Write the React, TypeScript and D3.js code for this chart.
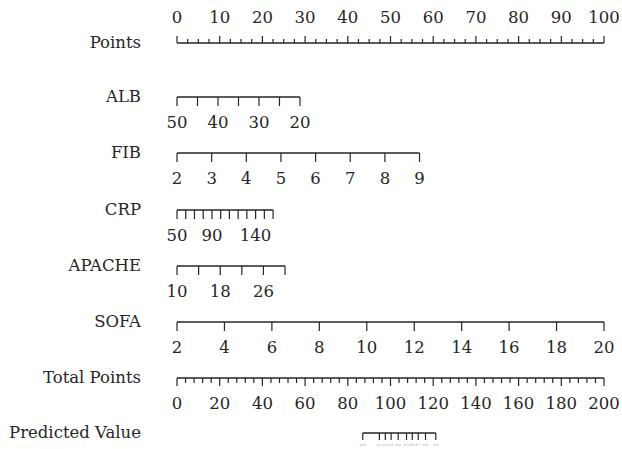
import React from "react";
import * as d3 from "d3";

// ---- data ----
const pointsTicksMajor = [0, 10, 20, 30, 40, 50, 60, 70, 80, 90, 100];
const pointsMinorStep = 2.5;

const albTicks = [50, 45, 40, 35, 30, 25, 20];
const albLabels = [50, 40, 30, 20];
const albDomain = [50, 20];
const albPoints = [0, 28.8];

const fibTicks = [2, 3, 4, 5, 6, 7, 8, 9];
const fibLabels = [2, 3, 4, 5, 6, 7, 8, 9];
const fibDomain = [2, 9];
const fibPoints = [0, 56.8];

const crpTicks = [50, 60, 70, 80, 90, 100, 110, 120, 130, 140, 150, 160];
const crpLabels = [50, 90, 140];
const crpDomain = [50, 160];
const crpPoints = [0, 22.5];

const apacheTicks = [10, 14, 18, 22, 26, 30];
const apacheLabels = [10, 18, 26];
const apacheDomain = [10, 30];
const apachePoints = [0, 25.3];

const sofaTicks = [2, 4, 6, 8, 10, 12, 14, 16, 18, 20];
const sofaLabels = [2, 4, 6, 8, 10, 12, 14, 16, 18, 20];
const sofaDomain = [2, 20];
const sofaPoints = [0, 100];

const totalMajor = [0, 20, 40, 60, 80, 100, 120, 140, 160, 180, 200];
const totalMinorStep = 4;

const predLabels = ["0.01", "0.1", "0.2", "0.3", "0.4", "0.5", "0.6", "0.7", "0.8", "0.9"];
const predAtTotal = [87, 94.8, 97.6, 100.3, 103.6, 107.5, 110.2, 113, 116.4, 121.2];

const FONT = "'DejaVu Serif', serif";
const INK = "#262626";

export default function App() {
  const x0 = 177, x1 = 604;
  const pts = d3.scaleLinear().domain([0, 100]).range([x0, x1]);
  const tot = d3.scaleLinear().domain([0, 200]).range([x0, x1]);
  const labelX = 141;

  const rows = [
    { name: "ALB", y: 97, ticks: albTicks, labels: albLabels, dom: albDomain, p: albPoints },
    { name: "FIB", y: 153, ticks: fibTicks, labels: fibLabels, dom: fibDomain, p: fibPoints },
    { name: "CRP", y: 210, ticks: crpTicks, labels: crpLabels, dom: crpDomain, p: crpPoints },
    { name: "APACHE", y: 266, ticks: apacheTicks, labels: apacheLabels, dom: apacheDomain, p: apachePoints },
    { name: "SOFA", y: 322, ticks: sofaTicks, labels: sofaLabels, dom: sofaDomain, p: sofaPoints },
  ];

  const pointsY = 43;
  const pointsMinor = d3.range(0, 100 + 1e-9, pointsMinorStep);
  const totalY = 378;
  const totalMinor = d3.range(0, 200 + 1e-9, totalMinorStep);
  const predY = 433;

  return (
    <svg width={622} height={449} style={{ position: "absolute", left: 0, top: 0, background: "#fff" }}>
      <g fontFamily={FONT} fill={INK} fontSize={16.5}>
        {/* Points */}
        <text x={labelX} y={pointsY + 5} textAnchor="end">Points</text>
        <line x1={pts(0)} x2={pts(100)} y1={pointsY} y2={pointsY} stroke={INK} strokeWidth={1.3} />
        {pointsMinor.map((v) => {
          const major = Math.abs(v % 10) < 1e-9;
          return (
            <line key={"pm" + v} x1={pts(v)} x2={pts(v)} y1={pointsY} y2={pointsY - (major ? 7 : 4)} stroke={INK} strokeWidth={1.2} />
          );
        })}
        {pointsTicksMajor.map((v) => (
          <text key={"pl" + v} x={pts(v)} y={23} textAnchor="middle">{v}</text>
        ))}

        {rows.map((r) => {
          const s = d3.scaleLinear().domain(r.dom).range([pts(r.p[0]), pts(r.p[1])]);
          return (
            <g key={r.name}>
              <text x={labelX} y={r.y + 5} textAnchor="end">{r.name}</text>
              <line x1={s(r.dom[0])} x2={s(r.dom[1])} y1={r.y} y2={r.y} stroke={INK} strokeWidth={1.3} />
              {r.ticks.map((t) => (
                <line key={t} x1={s(t)} x2={s(t)} y1={r.y} y2={r.y + 9} stroke={INK} strokeWidth={1.2} />
              ))}
              {r.labels.map((t) => (
                <text key={"l" + t} x={s(t)} y={r.y + 31} textAnchor="middle">{t}</text>
              ))}
            </g>
          );
        })}

        {/* Total Points */}
        <text x={labelX} y={totalY + 5} textAnchor="end">Total Points</text>
        <line x1={tot(0)} x2={tot(200)} y1={totalY} y2={totalY} stroke={INK} strokeWidth={1.3} />
        {totalMinor.map((v) => {
          const major = Math.abs(v % 20) < 1e-9;
          return (
            <line key={"tm" + v} x1={tot(v)} x2={tot(v)} y1={totalY} y2={totalY + (major ? 8 : 5)} stroke={INK} strokeWidth={1.2} />
          );
        })}
        {totalMajor.map((v) => (
          <text key={"tl" + v} x={tot(v)} y={totalY + 31} textAnchor="middle">{v}</text>
        ))}

        {/* Predicted Value */}
        <text x={labelX} y={predY + 5} textAnchor="end">Predicted Value</text>
        <line x1={tot(predAtTotal[0])} x2={tot(predAtTotal[predAtTotal.length - 1])} y1={predY} y2={predY} stroke={INK} strokeWidth={1.3} />
        {predAtTotal.map((v, i) => (
          <g key={"pv" + i}>
            <line x1={tot(v)} x2={tot(v)} y1={predY} y2={predY + 7} stroke={INK} strokeWidth={1.2} />
            <text x={tot(v)} y={predY + 13} textAnchor="middle" fontSize={3} fill="#888">{predLabels[i]}</text>
          </g>
        ))}
      </g>
    </svg>
  );
}
